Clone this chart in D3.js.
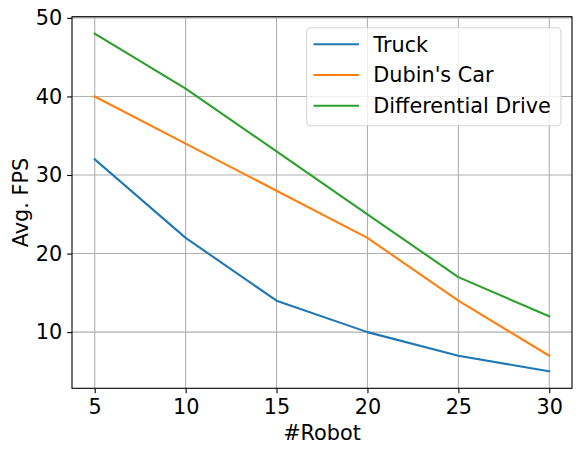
<!DOCTYPE html>
<html>
<head>
<meta charset="utf-8">
<script src="https://cdn.jsdelivr.net/npm/d3@7"></script>
<style>
  html, body { margin: 0; padding: 0; background: #fff; }
  svg { display: block; }
  text { font-family: "DejaVu Sans", sans-serif; fill: #000; }
</style>
</head>
<body>
<svg id="chart" width="582" height="455"></svg>
<script>
const robots = [5, 10, 15, 20, 25, 30];
const truck = [32, 22, 14, 10, 7, 5];
const dubinsCar = [40, 34, 28, 22, 14, 7];
const differentialDrive = [48, 41, 33, 25, 17, 12];
const seriesNames = ["Truck", "Dubin's Car", "Differential Drive"];
const seriesColors = ["#1f77b4", "#ff7f0e", "#2ca02c"];
const xTicks = [5, 10, 15, 20, 25, 30];
const yTicks = [10, 20, 30, 40, 50];

const series = [truck, dubinsCar, differentialDrive];

const svg = d3.select("#chart");
const L = 72, R = 572, T = 16.7, B = 388.3;
const fs = 20.8;

const x = d3.scaleLinear().domain([3.75, 31.25]).range([L, R]);
const y = d3.scaleLinear().domain([2.85, 50.15]).range([B, T]);

// grid
const g = svg.append("g");
g.selectAll(".vg").data(xTicks).enter().append("line")
  .attr("x1", d => x(d)).attr("x2", d => x(d)).attr("y1", T).attr("y2", B)
  .attr("stroke", "#b0b0b0").attr("stroke-width", 1.1);
g.selectAll(".hg").data(yTicks).enter().append("line")
  .attr("y1", d => y(d)).attr("y2", d => y(d)).attr("x1", L).attr("x2", R)
  .attr("stroke", "#b0b0b0").attr("stroke-width", 1.1);

// lines
const line = d3.line().x((d, i) => x(robots[i])).y(d => y(d));
series.forEach((s, k) => {
  svg.append("path").datum(s).attr("d", line)
    .attr("fill", "none").attr("stroke", seriesColors[k])
    .attr("stroke-width", 2.08).attr("stroke-linecap", "square")
    .attr("stroke-linejoin", "round");
});

// axes
const xAxis = d3.axisBottom(x).tickValues(xTicks).tickSize(4.86).tickPadding(4.86).tickFormat(d3.format("d"));
const yAxis = d3.axisLeft(y).tickValues(yTicks).tickSize(4.86).tickPadding(4.86).tickFormat(d3.format("d"));
const gx = svg.append("g").attr("transform", `translate(0,${B})`).call(xAxis);
const gy = svg.append("g").attr("transform", `translate(${L},0)`).call(yAxis);
[gx, gy].forEach(a => {
  a.select(".domain").remove();
  a.selectAll(".tick line").attr("stroke", "#000").attr("stroke-width", 1.1);
  a.selectAll(".tick text").style("font-size", fs + "px").style("font-family", "DejaVu Sans").attr("fill", "#000");
});
gx.selectAll(".tick text").attr("dy", "0.76em");

// spines
svg.append("rect").attr("x", L).attr("y", T).attr("width", R - L).attr("height", B - T)
  .attr("fill", "none").attr("stroke", "#000").attr("stroke-width", 1.1);

// axis labels
svg.append("text").attr("x", (L + R) / 2).attr("y", 440).attr("text-anchor", "middle")
  .style("font-size", fs + "px").text("#Robot");
svg.append("text").attr("transform", `translate(27.5,${(T + B) / 2}) rotate(-90)`)
  .attr("text-anchor", "middle").style("font-size", fs + "px").text("Avg. FPS");

// legend
const lg = svg.append("g");
lg.append("rect").attr("x", 306.7).attr("y", 27.7).attr("width", 254.3).attr("height", 98)
  .attr("rx", 4).attr("fill", "#fff").attr("fill-opacity", 0.8)
  .attr("stroke", "#cccccc").attr("stroke-opacity", 0.8).attr("stroke-width", 1.1);
const rowsY = [44.3, 75, 105.7];
seriesNames.forEach((n, k) => {
  lg.append("line").attr("x1", 314.5).attr("x2", 358).attr("y1", rowsY[k]).attr("y2", rowsY[k])
    .attr("stroke", seriesColors[k]).attr("stroke-width", 2.08).attr("stroke-linecap", "square");
  lg.append("text").attr("x", 373.3).attr("y", rowsY[k]).attr("dy", "0.35em")
    .style("font-size", fs + "px").text(n);
});
</script>
</body>
</html>
